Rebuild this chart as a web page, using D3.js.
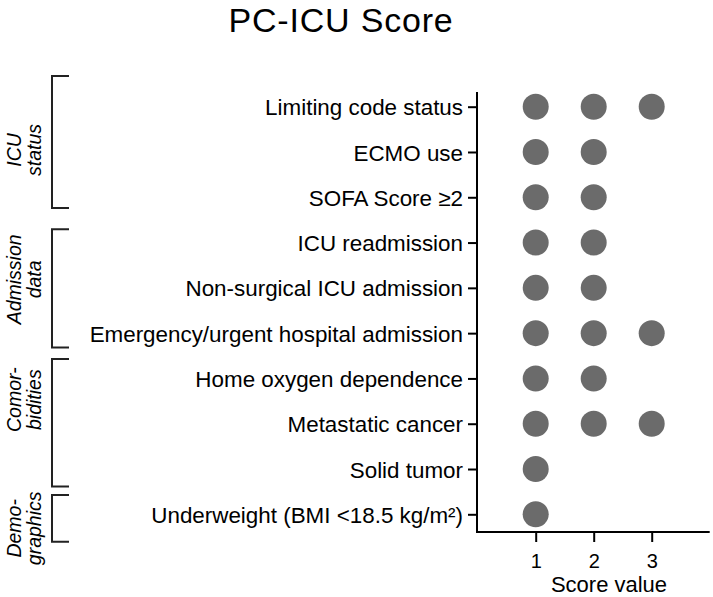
<!DOCTYPE html>
<html>
<head>
<meta charset="utf-8">
<script src="https://cdn.jsdelivr.net/npm/d3@7"></script>
<style>
  html, body { margin: 0; padding: 0; background: #fff; }
  svg { display: block; font-family: "Liberation Sans", Arial, Helvetica, sans-serif; }
</style>
</head>
<body>
<svg id="chart" width="713" height="597"></svg>
<script>
// ---- data ----
const categories = [
  "Limiting code status",
  "ECMO use",
  "SOFA Score \u22652",
  "ICU readmission",
  "Non-surgical ICU admission",
  "Emergency/urgent hospital admission",
  "Home oxygen dependence",
  "Metastatic cancer",
  "Solid tumor",
  "Underweight (BMI <18.5 kg/m\u00b2)"
];
const maxScore = [3, 2, 2, 2, 2, 3, 2, 3, 1, 1];   // possible score values 1..max
const xTicks = [1, 2, 3];
const groupNames = [["ICU", "status"], ["Admission", "data"], ["Comor-", "bidities"], ["Demo-", "graphics"]];
const groupFirst = [0, 3, 6, 9];
const groupLast  = [2, 5, 8, 9];

const title = "PC-ICU Score";
const xTitle = "Score value";

// ---- layout ----
const svg = d3.select("#chart");
const axisX = 477, axisTop = 92, axisBottom = 532;

const x = d3.scaleLinear().domain([0, 4]).range([477.7, 709.7]);
const y = d3.scalePoint().domain(categories).range([106.7, 514.3]);

// title
svg.append("text")
  .attr("x", 341).attr("y", 32)
  .attr("text-anchor", "middle")
  .attr("font-size", 34)
  .attr("letter-spacing", 0.8)
  .attr("fill", "#000")
  .text(title);

// y axis
const yAxis = d3.axisLeft(y).tickSize(9).tickPadding(5).tickSizeOuter(0);
const gy = svg.append("g").attr("transform", `translate(${axisX},0)`).call(yAxis);
gy.select(".domain").remove();
gy.selectAll(".tick line").attr("stroke", "#000").attr("stroke-width", 2);
gy.selectAll(".tick text").attr("font-size", 22.4).attr("fill", "#000")
  .attr("font-family", "Liberation Sans, Arial, sans-serif").attr("dy", "0.36em");

svg.append("line")
  .attr("x1", axisX).attr("x2", axisX).attr("y1", axisTop).attr("y2", axisBottom + 1)
  .attr("stroke", "#000").attr("stroke-width", 2);

// x axis
const xAxis = d3.axisBottom(x).tickValues(xTicks).tickFormat(d3.format("d")).tickSize(10).tickPadding(12).tickSizeOuter(0);
const gx = svg.append("g").attr("transform", `translate(0,${axisBottom})`).call(xAxis);
gx.select(".domain").remove();
gx.selectAll(".tick line").attr("stroke", "#000").attr("stroke-width", 2);
gx.selectAll(".tick text").attr("font-size", 20).attr("fill", "#000")
  .attr("font-family", "Liberation Sans, Arial, sans-serif").attr("dy", "0.71em");

svg.append("line")
  .attr("x1", axisX - 1).attr("x2", x(4)).attr("y1", axisBottom).attr("y2", axisBottom)
  .attr("stroke", "#000").attr("stroke-width", 2);

svg.append("text")
  .attr("x", 609).attr("y", 592)
  .attr("text-anchor", "middle")
  .attr("font-size", 22)
  .attr("fill", "#000")
  .text(xTitle);

// dots
const points = [];
categories.forEach((c, i) => {
  for (let s = 1; s <= maxScore[i]; s++) points.push({ cat: c, score: s });
});
svg.append("g").selectAll("circle")
  .data(points)
  .join("circle")
  .attr("cx", d => x(d.score))
  .attr("cy", d => y(d.cat))
  .attr("r", 13)
  .attr("fill", "#6b6b6b");

// group brackets
const bracketTop = [-30.7, -13.3, -19.5, -19.3];
const bracketBot = [10.7, 14.3, 17.4, 27.4];
const labelShift = [8, -9, -23, 10];
const bx = 52, bx2 = 69;
groupNames.forEach((g, i) => {
  const t = y(categories[groupFirst[i]]) + bracketTop[i];
  const b = y(categories[groupLast[i]]) + bracketBot[i];
  svg.append("path")
    .attr("d", `M${bx2},${t}H${bx}V${b}H${bx2}`)
    .attr("fill", "none").attr("stroke", "#222").attr("stroke-width", 2);
  const cy = (t + b) / 2 + labelShift[i];
  const tx = svg.append("text")
    .attr("transform", `translate(21,${cy}) rotate(-90)`)
    .attr("text-anchor", "middle")
    .attr("font-size", 19.5)
    .attr("font-style", "italic")
    .attr("fill", "#000");
  tx.append("tspan").attr("x", 0).attr("y", 0).text(g[0]);
  tx.append("tspan").attr("x", 0).attr("y", 19.5).text(g[1]);
});
</script>
</body>
</html>
